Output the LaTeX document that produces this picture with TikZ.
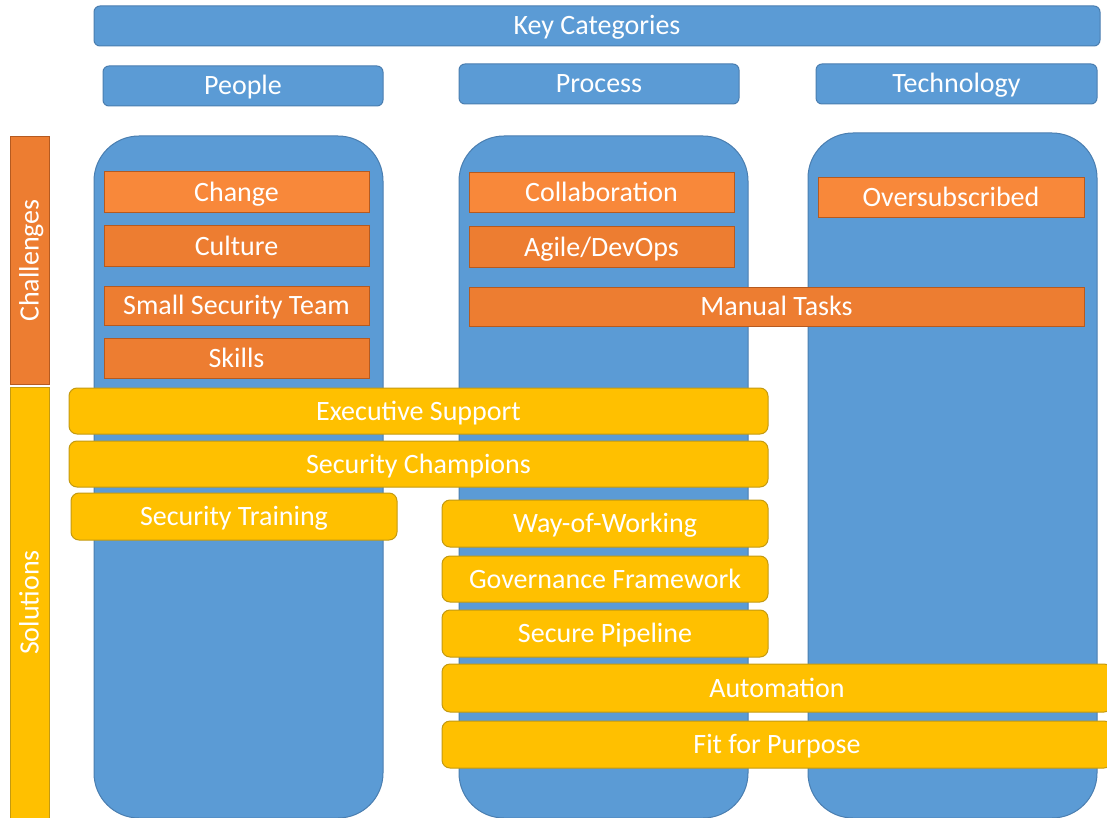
\documentclass[tikz,border=0pt]{standalone}
\usepackage{fontspec}
\setmainfont{Carlito}
\usepackage{tikz}
\usetikzlibrary{positioning}
\definecolor{blueF}{HTML}{5B9BD5}
\definecolor{blueD}{HTML}{4A7EB0}
\definecolor{orangeF}{HTML}{ED7D31}
\definecolor{orangeL}{HTML}{F8883A}
\definecolor{orangeD}{HTML}{B55A20}
\definecolor{goldF}{HTML}{FFC000}
\definecolor{goldD}{HTML}{C49A10}
\tikzset{
  box/.style = {draw, line width=1pt, text=white, inner sep=0pt,
                text height=20pt, text depth=2pt,
                font=\fontsize{28}{32}\selectfont},
  cat/.style = {box, fill=blueF, draw=blueD, rounded corners=6pt},
  col/.style = {draw=blueD, fill=blueF, line width=1pt, rounded corners=45pt},
  chal/.style = {box, fill=orangeF, draw=orangeD},
  chalL/.style = {chal, fill=orangeL},
  sol/.style = {box, fill=goldF, draw=goldD, rounded corners=8pt},
  side/.style = {box, rotate=90, minimum height=39pt}
}

\begin{document}
\begin{tikzpicture}[x=1pt, y=-1pt]
  \useasboundingbox (0,0) rectangle (1107,818);
  \clip (0,0) rectangle (1107,818);

  % header
  \node [cat, minimum width=1006pt, minimum height=40pt] (keycat) at (597, 26)   {Key Categories};
  \node [cat, minimum width=280pt,  minimum height=40pt] (people) at (243, 86)    {People};
  \node [cat, minimum width=280pt,  minimum height=40pt] (process) at (599, 84)   {Process};
  \node [cat, minimum width=281pt,  minimum height=40pt] (tech) at (956.5, 84)    {Technology};

  % columns
  \draw [col] (94,136)  rectangle (383,818);
  \draw [col] (459,136) rectangle (748,818);
  \draw [col] (808,133) rectangle (1097,818);

  % side bars
  \node [side, fill=orangeF, draw=orangeD, minimum width=247pt] (challenges) at (29.5, 260.5) {Challenges};
  \node [side, fill=goldF, draw=goldD, minimum width=431pt]     (solutions)  at (29.5, 602.5) {Solutions};

  % challenges
  \node [chalL, minimum width=265pt, minimum height=41pt] (change)  at (236.5, 192.5) {Change};
  \node [chal,  minimum width=265pt, minimum height=40pt] (culture) at (236.5, 246)   {Culture};
  \node [chal,  minimum width=265pt, minimum height=39pt] (team)    at (236.5, 305.5) {Small Security Team};
  \node [chal,  minimum width=265pt, minimum height=40pt] (skills)  at (236.5, 358)   {Skills};

  \node [chalL, minimum width=265pt, minimum height=40pt] (collab)  at (601.5, 193)   {Collaboration};
  \node [chal,  minimum width=265pt, minimum height=40pt] (agile)   at (601.5, 247)   {Agile/DevOps};
  \node [chal,  minimum width=615pt, minimum height=39pt] (manual)  at (776.5, 306.5) {Manual Tasks};
  \node [chalL, minimum width=266pt, minimum height=40pt] (oversub) at (951, 198)     {Oversubscribed};

  % solutions
  \node [sol, minimum width=699pt, minimum height=46pt] (exec)      at (418.5, 411)   {Executive Support};
  \node [sol, minimum width=699pt, minimum height=46pt] (champions) at (418.5, 464)   {Security Champions};
  \node [sol, minimum width=326pt, minimum height=47pt] (training)  at (234, 516.5)   {Security Training};

  \node [sol, minimum width=326pt, minimum height=47pt] (wow)       at (605, 523.5)   {Way-of-Working};
  \node [sol, minimum width=326pt, minimum height=46pt] (gov)       at (605, 579)     {Governance Framework};
  \node [sol, minimum width=326pt, minimum height=47pt] (pipeline)  at (605, 633.5)   {Secure Pipeline};
  \node [sol, minimum width=670pt, minimum height=48pt] (auto)      at (777, 688)     {Automation};
  \node [sol, minimum width=670pt, minimum height=47pt] (fit)       at (777, 744.5)   {Fit for Purpose};
\end{tikzpicture}
\end{document}
